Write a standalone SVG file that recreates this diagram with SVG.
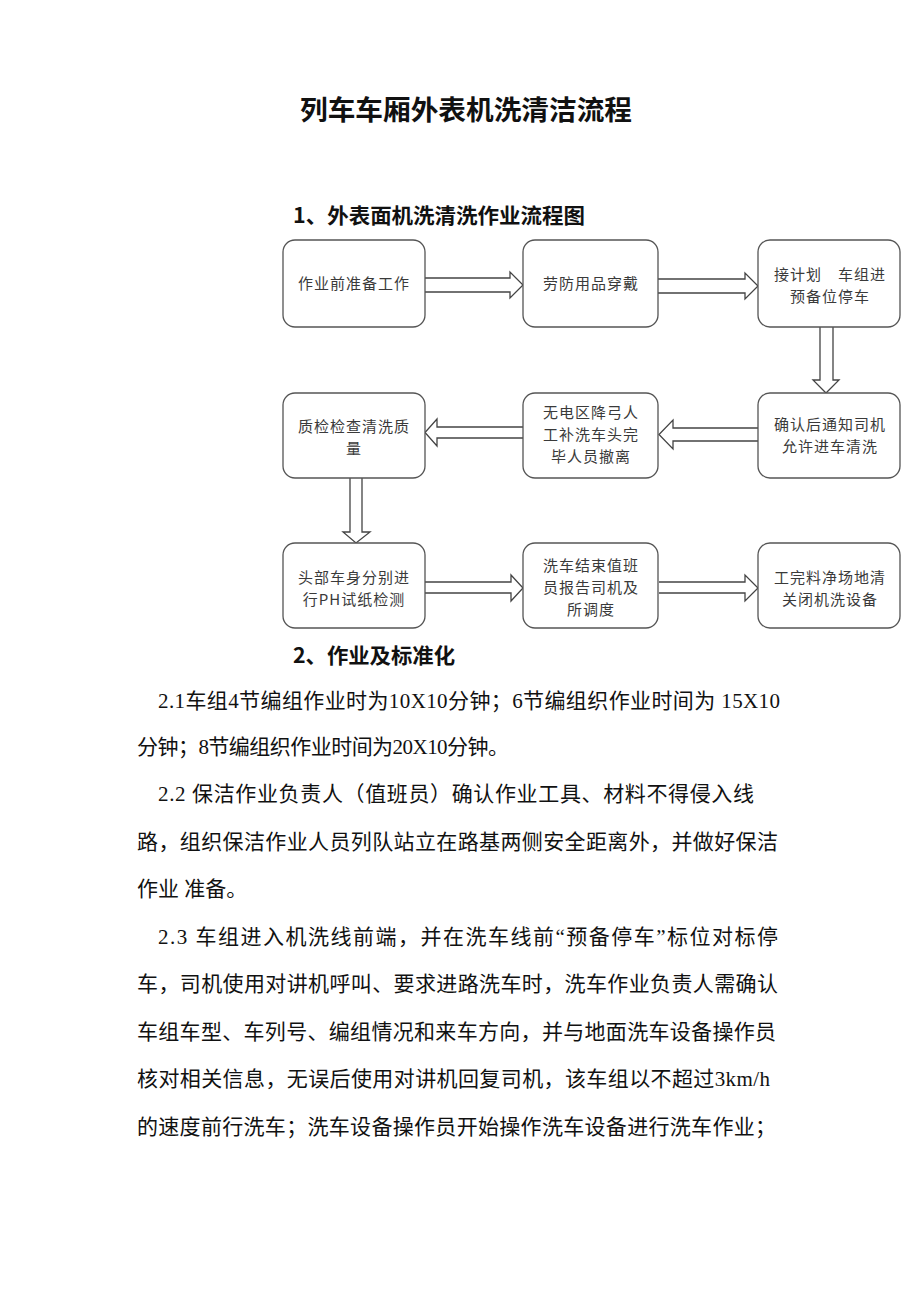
<svg xmlns="http://www.w3.org/2000/svg" width="920" height="1302" viewBox="0 0 920 1302">
<style>
.bg{fill:#fff}
.box{fill:#fff;stroke:#555;stroke-width:1.3}
.bt{font-family:"Noto Sans CJK SC","Noto Sans",sans-serif;font-size:15px;letter-spacing:1px;fill:#3a3a3a;text-anchor:middle}
.arr{fill:#fff;stroke:#444;stroke-width:1.3;stroke-linejoin:miter}
.title{font-family:"Noto Sans CJK SC",sans-serif;font-size:27px;font-weight:bold;fill:#111}
.h{font-family:"Noto Sans CJK SC",sans-serif;font-size:21px;font-weight:bold;fill:#111}
.body{font-family:"Liberation Serif","Noto Sans CJK SC",serif;font-size:21px;fill:#111}
</style>
<rect class="bg" x="0" y="0" width="920" height="1302"/>
<text class="title" x="466" y="120" text-anchor="middle" textLength="332" lengthAdjust="spacingAndGlyphs">列车车厢外表机洗清洁流程</text>
<text class="h" x="293" y="223" textLength="292" lengthAdjust="spacingAndGlyphs">1、外表面机洗清洗作业流程图</text>

<g id="connectors">
<path class="arr" d="M424,278 H510 V272 L523,285 L510,298 V292 H424"/>
<path class="arr" d="M658,279 H745 V273 L758,286 L745,299 V293 H658"/>
<path class="arr" d="M820,327 V380 H813 L826,393 L839,380 H833 V327"/>
<path class="arr" d="M758,428 H673 V420 L659,434.5 L673,449 V441 H758"/>
<path class="arr" d="M523,427 H437 V419 L425,432.5 L437,446 V438 H523"/>
<path class="arr" d="M350,478 V532 H343 L356,543 L370,532 H362 V478"/>
<path class="arr" d="M425,582 H511 V575 L523,588 L511,601 V593 H425"/>
<path class="arr" d="M659,582 H745 V575 L758,588 L745,601 V593 H659"/>
</g>

<g id="n1"><rect class="box" x="283" y="240" width="142" height="87" rx="12"/>
<text class="bt" x="354" y="289">作业前准备工作</text></g>
<g id="n2"><rect class="box" x="523" y="240" width="135" height="87" rx="12"/>
<text class="bt" x="591" y="289">劳防用品穿戴</text></g>
<g id="n3"><rect class="box" x="758" y="240" width="142" height="87" rx="12"/>
<text class="bt" x="830" y="280" xml:space="preserve">接计划　车组进</text>
<text class="bt" x="830" y="302">预备位停车</text></g>
<g id="n4"><rect class="box" x="283" y="393" width="142" height="85" rx="12"/>
<text class="bt" x="354" y="432">质检检查清洗质</text>
<text class="bt" x="354" y="454">量</text></g>
<g id="n5"><rect class="box" x="523" y="393" width="135" height="85" rx="12"/>
<text class="bt" x="591" y="418">无电区降弓人</text>
<text class="bt" x="591" y="440">工补洗车头完</text>
<text class="bt" x="591" y="462">毕人员撤离</text></g>
<g id="n6"><rect class="box" x="758" y="393" width="142" height="85" rx="12"/>
<text class="bt" x="830" y="430">确认后通知司机</text>
<text class="bt" x="830" y="452">允许进车清洗</text></g>
<g id="n7"><rect class="box" x="283" y="543" width="142" height="85" rx="12"/>
<text class="bt" x="354" y="583">头部车身分别进</text>
<text class="bt" x="354" y="605">行PH试纸检测</text></g>
<g id="n8"><rect class="box" x="523" y="543" width="135" height="85" rx="12"/>
<text class="bt" x="591" y="571">洗车结束值班</text>
<text class="bt" x="591" y="593">员报告司机及</text>
<text class="bt" x="591" y="615">所调度</text></g>
<g id="n9"><rect class="box" x="758" y="543" width="142" height="85" rx="12"/>
<text class="bt" x="830" y="583">工完料净场地清</text>
<text class="bt" x="830" y="605">关闭机洗设备</text></g>

<text class="h" x="293" y="663" textLength="162" lengthAdjust="spacingAndGlyphs">2、作业及标准化</text>

<g id="body">
<text class="body" x="158" y="708" textLength="622" lengthAdjust="spacing">2.1车组4节编组作业时为10X10分钟；6节编组织作业时间为 15X10</text>
<text class="body" x="137" y="754" textLength="372" lengthAdjust="spacing">分钟；8节编组织作业时间为20X10分钟。</text>
<text class="body" x="158" y="801" textLength="596" lengthAdjust="spacing">2.2 保洁作业负责人（值班员）确认作业工具、材料不得侵入线</text>
<text class="body" x="137" y="849" textLength="641" lengthAdjust="spacing">路，组织保洁作业人员列队站立在路基两侧安全距离外，并做好保洁</text>
<text class="body" x="137" y="896" xml:space="preserve">作业 准备。</text>
<text class="body" x="158" y="944" textLength="620" lengthAdjust="spacing">2.3 车组进入机洗线前端，并在洗车线前“预备停车”标位对标停</text>
<text class="body" x="137" y="991" textLength="641" lengthAdjust="spacing">车，司机使用对讲机呼叫、要求进路洗车时，洗车作业负责人需确认</text>
<text class="body" x="137" y="1039" textLength="639" lengthAdjust="spacing">车组车型、车列号、编组情况和来车方向，并与地面洗车设备操作员</text>
<text class="body" x="137" y="1086" textLength="633" lengthAdjust="spacing">核对相关信息，无误后使用对讲机回复司机，该车组以不超过3km/h</text>
<text class="body" x="137" y="1134" textLength="639" lengthAdjust="spacing">的速度前行洗车；洗车设备操作员开始操作洗车设备进行洗车作业；</text>
</g>
</svg>
